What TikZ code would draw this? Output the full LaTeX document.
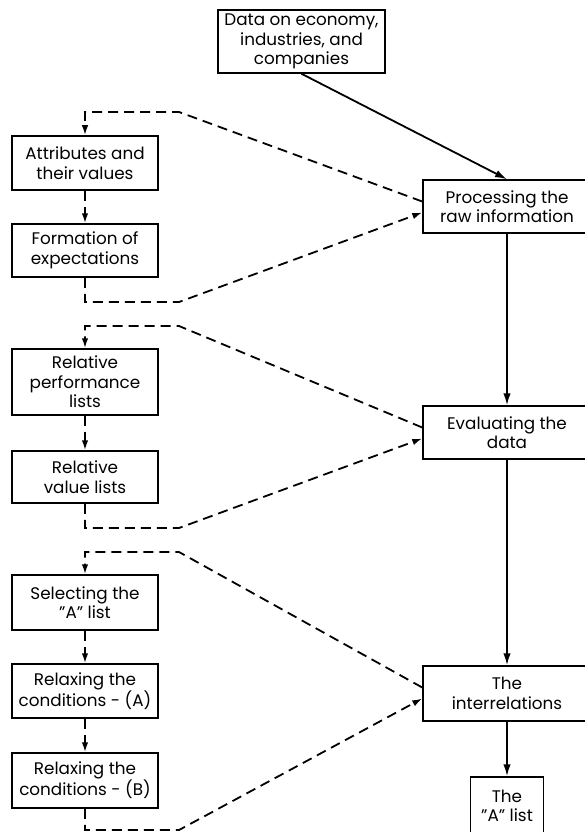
\documentclass[tikz,border=0pt]{standalone}
\usepackage{fontspec}
\setmainfont{Poppins}
\usetikzlibrary{arrows.meta,calc}

\tikzset{
  box/.style={draw, line width=1.5pt, inner sep=0pt, align=center,
    font=\fontsize{16.8}{19.5}\selectfont},
  flow/.style={line width=1.8pt, -{Latex[length=12pt,width=7.5pt]}},
  link/.style={line width=1.8pt, dash pattern=on 10pt off 6pt},
  linkarrow/.style={link, -{Latex[length=10pt,width=6.5pt]}},
}

\begin{document}
\begin{tikzpicture}[x=1pt, y=-1pt]
  \useasboundingbox (0,0) rectangle (585,832);
  \clip (0,0) rectangle (585,832);

  % main chain
  \node[box, minimum width=167pt, minimum height=63pt] (data) at (301.5,41.5)
    {Data on economy,\\industries, and\\companies};
  \node[box, minimum width=168pt, minimum height=53pt] (proc) at (507,206.5)
    {Processing the\\raw information};
  \node[box, minimum width=168pt, minimum height=53pt] (eval) at (507,432.5)
    {Evaluating the\\data};
  \node[box, minimum width=168pt, minimum height=55pt] (inter) at (507,693.5)
    {The\\interrelations};
  \node[box, minimum width=73pt, minimum height=58pt] (alist) at (507,806)
    {The\\"A" list};

  % side steps
  \node[box, minimum width=146pt, minimum height=54pt] (attr) at (85,163)
    {Attributes and\\their values};
  \node[box, minimum width=146pt, minimum height=53pt] (form) at (85,250.5)
    {Formation of\\expectations};
  \node[box, minimum width=146pt, minimum height=66pt] (rperf) at (85,382)
    {Relative\\performance\\lists};
  \node[box, minimum width=146pt, minimum height=52pt] (rval) at (85,477)
    {Relative\\value lists};
  \node[box, minimum width=146pt, minimum height=55pt] (sel) at (85,602.5)
    {Selecting the\\"A" list};
  \node[box, minimum width=146pt, minimum height=54pt] (relA) at (85,691)
    {Relaxing the\\conditions - (A)};
  \node[box, minimum width=146pt, minimum height=55pt] (relB) at (85,780.5)
    {Relaxing the\\conditions - (B)};

  % solid flow
  \draw[flow] (data.south) -- (proc.north);
  \draw[flow] (proc) -- (eval);
  \draw[flow] (eval) -- (inter);
  \draw[flow] (inter) -- (alist);

  % loop corners
  \coordinate (a1) at (85,112);  \coordinate (b1) at (179,112);
  \coordinate (c1) at (85,302);  \coordinate (d1) at (179,302);
  \coordinate (a2) at (85,326);  \coordinate (b2) at (179,326);
  \coordinate (c2) at (85,528);  \coordinate (d2) at (179,528);
  \coordinate (a3) at (85,552);  \coordinate (b3) at (179,552);
  \coordinate (c3) at (85,830);  \coordinate (d3) at (179,830);

  % loop 1
  \draw[linkarrow] ($(proc.west)+(0,-5)$) -- (b1) -- (a1) -- (attr.north);
  \draw[linkarrow] (attr) -- (form);
  \draw[linkarrow] (form.south) -- (c1) -- (d1) -- ($(proc.west)+(0,6)$);

  % loop 2
  \draw[linkarrow] ($(eval.west)+(0,-5)$) -- (b2) -- (a2) -- (rperf.north);
  \draw[linkarrow] (rperf) -- (rval);
  \draw[linkarrow] (rval.south) -- (c2) -- (d2) -- ($(eval.west)+(0,6)$);

  % loop 3
  \draw[linkarrow] ($(inter.west)+(0,-6)$) -- (b3) -- (a3) -- (sel.north);
  \draw[linkarrow] (sel) -- (relA);
  \draw[linkarrow] (relA) -- (relB);
  \draw[linkarrow] (relB.south) -- (c3) -- (d3) -- ($(inter.west)+(0,5)$);
\end{tikzpicture}
\end{document}
